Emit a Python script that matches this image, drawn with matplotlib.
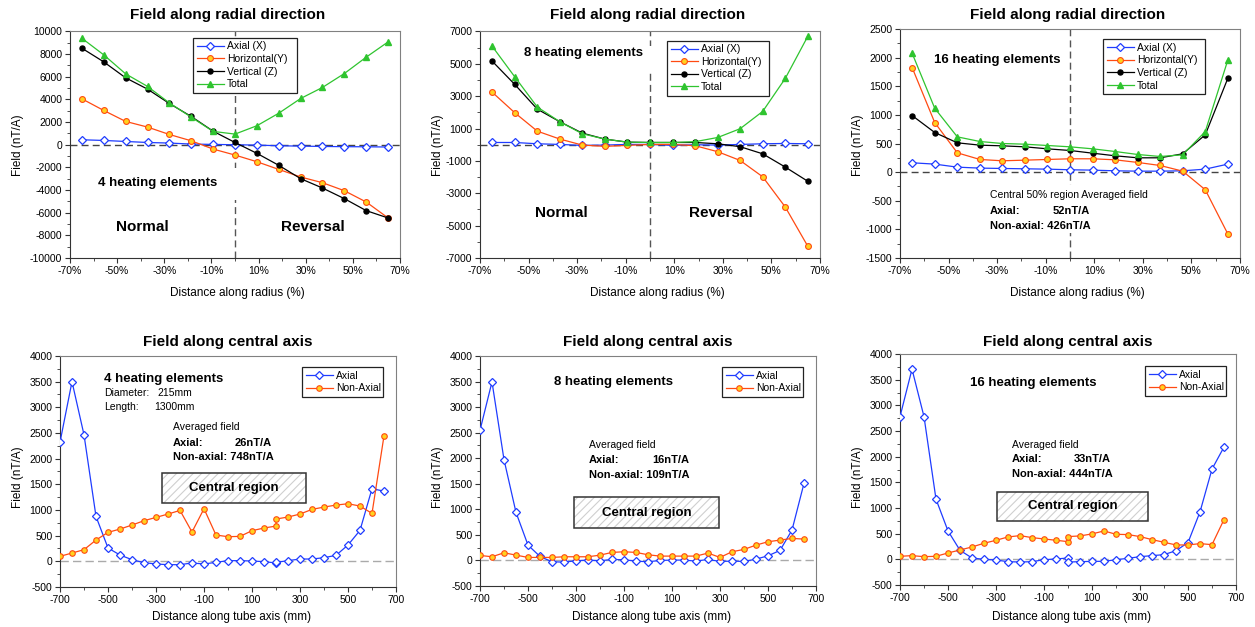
"""
Magnetic field of heating elements: radial and axial profiles
"""
import matplotlib
matplotlib.use('Agg')
import matplotlib.pyplot as plt
from matplotlib.patches import Rectangle
from matplotlib.ticker import MultipleLocator, FuncFormatter

plt.rcParams['font.family'] = ['Liberation Sans', 'DejaVu Sans']
plt.rcParams['axes.unicode_minus'] = False
plt.rcParams['hatch.linewidth'] = 0.8

# ---- radial direction data (x in % of radius) ----
radius = [-65, -55.7, -46.4, -37.1, -27.9, -18.6, -9.3, 0, 9.3, 18.6, 27.9, 37.1, 46.4, 55.7, 65]

r4_axial = [440, 380, 290, 200, 150, 60, 30, 0, -30, -90, -120, -150, -170, -180, -200]
r4_horiz = [4060, 3030, 2060, 1560, 910, 350, -380, -910, -1500, -2180, -2850, -3350, -4060, -5060, -6470]
r4_vert = [8530, 7320, 5910, 4910, 3650, 2500, 1200, 200, -760, -1820, -3000, -3820, -4760, -5820, -6470]
r4_total = [9410, 7940, 6260, 5150, 3700, 2440, 1180, 940, 1680, 2790, 4090, 5060, 6290, 7740, 9090]

r8_axial = [140, 140, 60, 20, -40, -20, 20, 20, -40, 0, -20, 20, 60, 80, 60]
r8_horiz = [3250, 1980, 840, 350, -20, -100, -40, 20, 20, -60, -430, -970, -1980, -3850, -6280]
r8_vert = [5170, 3730, 2200, 1420, 720, 350, 160, 140, 140, 140, 60, -120, -560, -1380, -2260]
r8_total = [6090, 4200, 2330, 1420, 680, 350, 160, 140, 140, 190, 450, 990, 2060, 4100, 6710]

r16_axial = [163, 140, 87, 70, 64, 58, 52, 41, 35, 23, 17, 17, 23, 52, 140]
r16_horiz = [1826, 866, 337, 221, 198, 209, 221, 233, 233, 215, 169, 116, 17, -308, -1081]
r16_vert = [988, 692, 512, 471, 459, 442, 407, 378, 331, 285, 250, 250, 320, 651, 1640]
r16_total = [2076, 1116, 616, 535, 500, 488, 465, 442, 407, 360, 308, 273, 302, 709, 1959]

# ---- central axis data (x in mm) ----
z4 = [-700, -650, -600, -550, -500, -450, -400, -350, -300, -250, -200, -150, -100, -50, 0,
      50, 100, 150, 200, 200, 250, 300, 350, 400, 450, 500, 550, 600, 650]
a4_axial = [2320, 3500, 2465, 875, 260, 123, 32, -26, -52, -65, -65, -32, -52, -19, 13,
            13, 6, -6, -32, -20, 13, 45, 45, 71, 117, 318, 603, 1414, 1368]
a4_nonax = [97, 162, 227, 415, 564, 629, 707, 791, 856, 921, 992, 571, 1025, 512, 480,
            486, 597, 649, 687, 824, 863, 921, 1012, 1057, 1096, 1122, 1077, 934, 2445]

z8 = [-700, -650, -600, -550, -500, -450, -400, -350, -300, -250, -200, -150, -100, -50, 0,
      50, 100, 150, 200, 250, 300, 350, 400, 450, 500, 550, 600, 650]
a8_axial = [2547, 3494, 1972, 940, 300, 78, -26, -33, -7, 7, -7, 20, 13, -13, -26,
            0, 7, 7, -13, 20, -20, -13, -20, 26, 91, 196, 594, 1509]
a8_nonax = [98, 72, 150, 104, 59, 59, 59, 72, 72, 72, 104, 157, 170, 157, 111,
            85, 85, 85, 85, 144, 59, 170, 216, 300, 366, 398, 431, 418]

z16 = [-700, -650, -600, -550, -500, -450, -400, -350, -300, -250, -200, -150, -100, -50, 0,
       0, 50, 100, 150, 200, 250, 300, 350, 400, 450, 500, 550, 600, 650]
a16_axial = [2780, 3705, 2780, 1172, 553, 176, 26, 0, -13, -46, -52, -46, -7, 7, 26,
             -52, -46, -39, -39, -7, 20, 52, 72, 91, 169, 326, 924, 1758, 2188]
a16_nonax = [59, 72, 52, 59, 124, 182, 241, 313, 371, 436, 462, 423, 397, 371, 345,
             443, 456, 495, 553, 488, 482, 443, 384, 332, 280, 280, 306, 286, 775]

BLUE = '#1f3cff'
ORANGE = '#ff4a12'
YELLOW = '#ffd21f'
GREEN = '#2fc42f'

W, H = 1255., 627.


def box(l, t, r, b):
  return [l / W, 1 - b / H, (r - l) / W, (b - t) / H]


def style(ax):
  for s in ['top', 'right']:
    ax.spines[s].set_color('#808080')
  for s in ['left', 'bottom']:
    ax.spines[s].set_color('#333333')
  for s in ax.spines.values():
    s.set_linewidth(0.8)
  ax.tick_params(which='both', direction='out', labelsize=7.5, color='#333333', pad=2)
  ax.tick_params(which='major', length=3.5)
  ax.tick_params(which='minor', length=2.5)


def radial(ax, axial, horiz, vert, total, ylim, ystep):
  ax.axhline(0, color='#444444', ls=(0, (5, 3)), lw=1, zorder=1)
  ax.axvline(0, color='#555555', ls=(0, (5, 3)), lw=1, zorder=1)
  ax.plot(radius, axial, color=BLUE, lw=0.9, marker='D', ms=4.2, mfc='white', mec=BLUE,
          mew=0.9, label='Axial (X)', zorder=3)
  ax.plot(radius, horiz, color=ORANGE, lw=0.9, marker='o', ms=4.2, mfc=YELLOW, mec=ORANGE,
          mew=0.8, label='Horizontal(Y)', zorder=3)
  ax.plot(radius, vert, color='black', lw=0.9, marker='o', ms=3.6, mfc='black',
          label='Vertical (Z)', zorder=3)
  ax.plot(radius, total, color=GREEN, lw=0.9, marker='^', ms=4.2, mfc=GREEN, mec=GREEN,
          label='Total', zorder=3)
  ax.set_xlim(-70, 70)
  ax.set_ylim(*ylim)
  ax.set_xticks([-70, -50, -30, -10, 10, 30, 50, 70])
  ax.xaxis.set_major_formatter(FuncFormatter(lambda v, p: '%d%%' % round(v)))
  ax.xaxis.set_minor_locator(MultipleLocator(10))
  ax.yaxis.set_major_locator(MultipleLocator(ystep))
  ax.yaxis.set_minor_locator(MultipleLocator(ystep / 2))
  style(ax)


def central(ax, z, axial, nonax):
  ax.axhline(0, color='#aaaaaa', ls=(0, (6, 3)), lw=1, zorder=1)
  ax.plot(z, axial, color=BLUE, lw=0.9, marker='D', ms=4.2, mfc='white', mec=BLUE,
          mew=0.9, label='Axial', zorder=3)
  ax.plot(z, nonax, color=ORANGE, lw=0.9, marker='o', ms=4.0, mfc=YELLOW, mec=ORANGE,
          mew=0.8, label='Non-Axial', zorder=3)
  ax.set_xlim(-700, 700)
  ax.set_ylim(-500, 4000)
  ax.set_xticks([-700, -500, -300, -100, 100, 300, 500, 700])
  ax.xaxis.set_minor_locator(MultipleLocator(100))
  ax.yaxis.set_major_locator(MultipleLocator(500))
  ax.yaxis.set_minor_locator(MultipleLocator(250))
  style(ax)


def legend(ax, x0, y0, x1, y1):
  lg = ax.legend(loc='upper left', bbox_to_anchor=(x0, y1, x1 - x0, y0 - y1), mode='expand',
                 fontsize=7.5, frameon=True, fancybox=False, edgecolor='#222222',
                 framealpha=1, handlelength=2.6, handletextpad=0.3, borderpad=0.35,
                 labelspacing=0.25, borderaxespad=0)
  lg.get_frame().set_linewidth(0.9)


def blank(ax, x0, y0, x1, y1):
  # white patch that interrupts the centre dashed line behind text
  ax.add_patch(Rectangle((x0, y0), x1 - x0, y1 - y0, transform=ax.transAxes,
                         facecolor='white', edgecolor='none', zorder=1.5))


def region(ax, x0, y0, x1, y1):
  ax.add_patch(Rectangle((x0, y0), x1 - x0, y1 - y0, transform=ax.transAxes,
                         facecolor='white', edgecolor='#cfcfcf', hatch='////', lw=0, zorder=2))
  ax.add_patch(Rectangle((x0, y0), x1 - x0, y1 - y0, transform=ax.transAxes,
                         facecolor='none', edgecolor='#333333', lw=1.1, zorder=2.1))
  ax.text((x0 + x1) / 2, (y0 + y1) / 2, 'Central region', transform=ax.transAxes,
          ha='center', va='center', fontsize=9.5, fontweight='bold', zorder=2.2)


fig = plt.figure(figsize=(12.55, 6.27), dpi=100)

ax1 = fig.add_axes(box(70, 31.5, 400, 258))
ax2 = fig.add_axes(box(480, 31.5, 820, 258))
ax3 = fig.add_axes(box(900, 29, 1240, 258))
ax4 = fig.add_axes(box(60, 356, 396, 587))
ax5 = fig.add_axes(box(480, 356, 816, 586))
ax6 = fig.add_axes(box(900, 354, 1236, 585))

radial(ax1, r4_axial, r4_horiz, r4_vert, r4_total, (-10000, 10000), 2000)
radial(ax2, r8_axial, r8_horiz, r8_vert, r8_total, (-7000, 7000), 2000)
radial(ax3, r16_axial, r16_horiz, r16_vert, r16_total, (-1500, 2500), 500)
ax2.set_yticks([-7000, -5000, -3000, -1000, 1000, 3000, 5000, 7000])
ax2.yaxis.set_minor_locator(MultipleLocator(1000))
ax1.yaxis.set_minor_locator(MultipleLocator(1000))

legend(ax1, 0.373, 0.972, 0.688, 0.729)
legend(ax2, 0.55, 0.96, 0.85, 0.72)
legend(ax3, 0.597, 0.956, 0.897, 0.694)

blank(ax1, 0.08, 0.257, 0.52, 0.398)
blank(ax2, 0.10, 0.82, 0.51, 0.934)
blank(ax3, 0.26, 0.109, 0.72, 0.319)

bold = dict(fontweight='bold', va='center', ha='left', zorder=4)
ax1.text(0.085, 0.33, '4 heating elements', transform=ax1.transAxes, fontsize=9.5, **bold)
ax1.text(0.22, 0.137, 'Normal', transform=ax1.transAxes, fontsize=11,
         fontweight='bold', ha='center', va='center')
ax1.text(0.735, 0.137, 'Reversal', transform=ax1.transAxes, fontsize=11,
         fontweight='bold', ha='center', va='center')

ax2.text(0.13, 0.907, '8 heating elements', transform=ax2.transAxes, fontsize=9.5, **bold)
ax2.text(0.24, 0.2, 'Normal', transform=ax2.transAxes, fontsize=11,
         fontweight='bold', ha='center', va='center')
ax2.text(0.709, 0.2, 'Reversal', transform=ax2.transAxes, fontsize=11,
         fontweight='bold', ha='center', va='center')

ax3.text(0.1, 0.865, '16 heating elements', transform=ax3.transAxes, fontsize=9.5, **bold)
ax3.text(0.265, 0.275, 'Central 50% region Averaged field', transform=ax3.transAxes,
         fontsize=7.5, va='center', ha='left')
ax3.text(0.265, 0.205, 'Axial:', transform=ax3.transAxes, fontsize=8, **bold)
ax3.text(0.45, 0.205, '52nT/A', transform=ax3.transAxes, fontsize=8, **bold)
ax3.text(0.265, 0.14, 'Non-axial: 426nT/A', transform=ax3.transAxes, fontsize=8, **bold)

central(ax4, z4, a4_axial, a4_nonax)
central(ax5, z8, a8_axial, a8_nonax)
central(ax6, z16, a16_axial, a16_nonax)

legend(ax4, 0.72, 0.952, 0.96, 0.797)
legend(ax5, 0.72, 0.952, 0.96, 0.797)
legend(ax6, 0.73, 0.948, 0.97, 0.792)

region(ax4, 0.304, 0.364, 0.732, 0.494)
region(ax5, 0.28, 0.252, 0.711, 0.387)
region(ax6, 0.289, 0.277, 0.738, 0.403)

ax4.text(0.131, 0.9, '4 heating elements', transform=ax4.transAxes, fontsize=9.5, **bold)
ax4.text(0.131, 0.84, 'Diameter:', transform=ax4.transAxes, fontsize=7.5, va='center')
ax4.text(0.29, 0.84, '215mm', transform=ax4.transAxes, fontsize=7.5, va='center')
ax4.text(0.131, 0.78, 'Length:', transform=ax4.transAxes, fontsize=7.5, va='center')
ax4.text(0.28, 0.78, '1300mm', transform=ax4.transAxes, fontsize=7.5, va='center')
ax4.text(0.336, 0.693, 'Averaged field', transform=ax4.transAxes, fontsize=7.5, va='center')
ax4.text(0.336, 0.623, 'Axial:', transform=ax4.transAxes, fontsize=8, **bold)
ax4.text(0.52, 0.623, '26nT/A', transform=ax4.transAxes, fontsize=8, **bold)
ax4.text(0.336, 0.563, 'Non-axial: 748nT/A', transform=ax4.transAxes, fontsize=8, **bold)

ax5.text(0.22, 0.887, '8 heating elements', transform=ax5.transAxes, fontsize=9.5, **bold)
ax5.text(0.325, 0.613, 'Averaged field', transform=ax5.transAxes, fontsize=7.5, va='center')
ax5.text(0.325, 0.548, 'Axial:', transform=ax5.transAxes, fontsize=8, **bold)
ax5.text(0.512, 0.548, '16nT/A', transform=ax5.transAxes, fontsize=8, **bold)
ax5.text(0.325, 0.483, 'Non-axial: 109nT/A', transform=ax5.transAxes, fontsize=8, **bold)

ax6.text(0.208, 0.874, '16 heating elements', transform=ax6.transAxes, fontsize=9.5, **bold)
ax6.text(0.333, 0.606, 'Averaged field', transform=ax6.transAxes, fontsize=7.5, va='center')
ax6.text(0.333, 0.545, 'Axial:', transform=ax6.transAxes, fontsize=8, **bold)
ax6.text(0.518, 0.545, '33nT/A', transform=ax6.transAxes, fontsize=8, **bold)
ax6.text(0.333, 0.48, 'Non-axial: 444nT/A', transform=ax6.transAxes, fontsize=8, **bold)

# titles and axis labels
for cx in [228, 648, 1068]:
  fig.text(cx / W, 1 - 15 / H, 'Field along radial direction', ha='center', va='center',
           fontsize=11, fontweight='bold')
  fig.text(cx / W, 1 - 342 / H, 'Field along central axis', ha='center', va='center',
           fontsize=11, fontweight='bold')
for lx in [18, 438, 858]:
  fig.text(lx / W, 1 - 145 / H, 'Field (nT/A)', rotation=90, ha='center', va='center',
           fontsize=8.5)
  fig.text(lx / W, 1 - 477 / H, 'Field (nT/A)', rotation=90, ha='center', va='center',
           fontsize=8.5)
for cx in [237, 657, 1077]:
  fig.text(cx / W, 1 - 293 / H, 'Distance along radius (%)', ha='center', va='center',
           fontsize=8.5)
for cx in [232, 652, 1072]:
  fig.text(cx / W, 1 - 617 / H, 'Distance along tube axis (mm)', ha='center', va='center',
           fontsize=8.5)

plt.savefig('out.png', dpi=100)
